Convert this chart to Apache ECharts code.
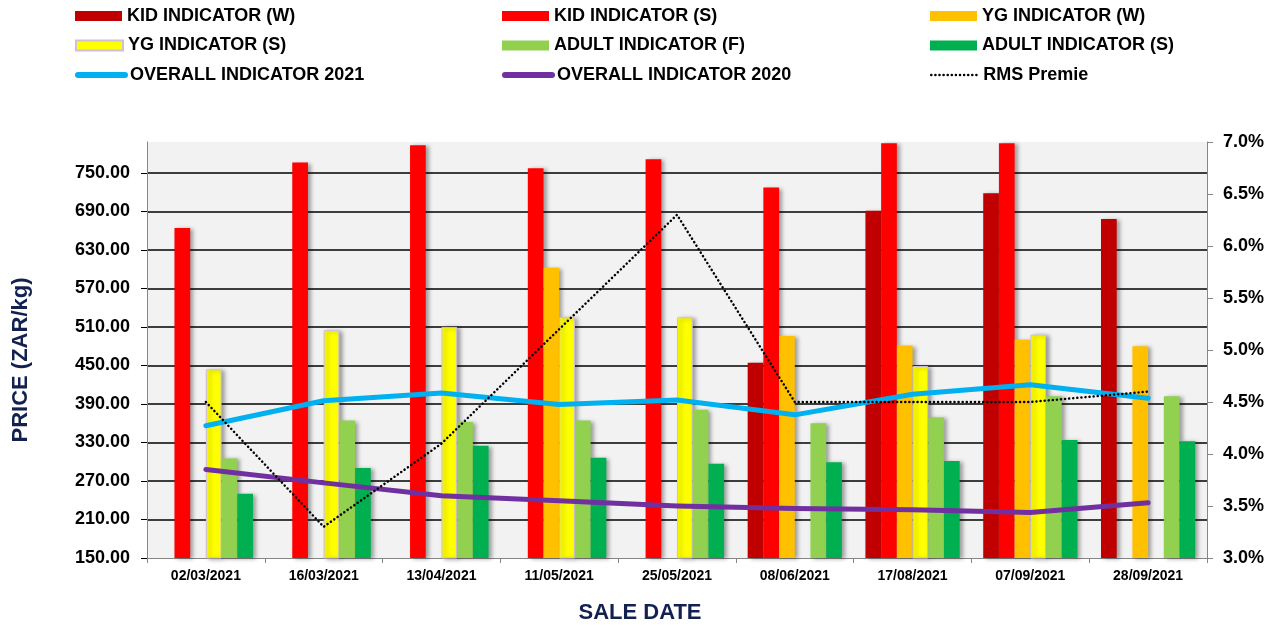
<!DOCTYPE html>
<html>
<head>
<meta charset="utf-8">
<script src="https://cdn.jsdelivr.net/npm/echarts@6/dist/echarts.min.js"></script>
<style>
html,body{margin:0;padding:0;background:#fff;}
#chart{width:1274px;height:625px;}
</style>
</head>
<body>
<div id="chart"></div>
<script>
var categories = ['02/03/2021','16/03/2021','13/04/2021','11/05/2021','25/05/2021','08/06/2021','17/08/2021','07/09/2021','28/09/2021'];
var kidW    = [null, null, null, null, null, 454, 691, 718, 678];
var kidS    = [664, 766, 793, 757, 771, 727, 796, 796, null];
var ygW     = [null, null, null, 602, null, 496, 481, 490, 480];
var ygS     = [444, 505, 510, 525, 525, null, 449, 498, null];
var adultF  = [305, 364, 362, 364, 381, 360, 369, 402, 402];
var adultS  = [250, 290, 325, 306, 297, 299, 301, 334, 332];
var overall2021 = [356, 395, 407, 389, 396, 373, 405, 420, 399];
var overall2020 = [288, 267, 247, 239, 231, 227, 225, 221, 236];
var rmsPremie   = [4.5, 3.3, 4.1, 5.2, 6.3, 4.5, 4.5, 4.5, 4.6];
var leftTicks = {min: 150, max: 798, interval: 60};
var rightTicks = {min: 3, max: 7, interval: 0.5};

var FONT = "'Liberation Sans', Arial, Helvetica, sans-serif";
var shadow = {shadowColor: 'rgba(0,0,0,0.35)', shadowBlur: 4, shadowOffsetX: 3, shadowOffsetY: 1};
var DOTS = [0.1, 4];

function barSeries(name, data, color, border) {
  return {
    name: name, type: 'bar', data: data, yAxisIndex: 0,
    barGap: '0%', barCategoryGap: '20%',
    itemStyle: Object.assign({color: color, borderColor: border || color, borderWidth: border ? 1 : 0}, shadow)
  };
}
function lineSeries(name, data, color, width, type, axis, z) {
  return {
    name: name, type: 'line', data: data, yAxisIndex: axis, symbol: 'none', z: z,
    lineStyle: {color: color, width: width, type: type, cap: 'round', join: 'round'},
    itemStyle: {color: color}
  };
}

var series = [
  barSeries('KID INDICATOR (W)', kidW, '#c00000'),
  barSeries('KID INDICATOR (S)', kidS, '#ff0000'),
  barSeries('YG INDICATOR (W)', ygW, '#ffc000'),
  barSeries('YG INDICATOR (S)', ygS, '#ffff00', '#ccc0da'),
  barSeries('ADULT INDICATOR (F)', adultF, '#92d050'),
  barSeries('ADULT INDICATOR (S)', adultS, '#00b050'),
  lineSeries('OVERALL INDICATOR 2021', overall2021, '#00b0f0', 5, 'solid', 0, 5),
  lineSeries('OVERALL INDICATOR 2020', overall2020, '#7030a0', 5, 'solid', 0, 5),
  lineSeries('RMS Premie', rmsPremie, '#000000', 2.5, DOTS, 1, 6)
];

var legendCols = [75, 502, 930];
var legendRows = [16, 45.5, 75];
var legendOrder = [
  ['KID INDICATOR (W)', 'KID INDICATOR (S)', 'YG INDICATOR (W)'],
  ['YG INDICATOR (S)', 'ADULT INDICATOR (F)', 'ADULT INDICATOR (S)'],
  ['OVERALL INDICATOR 2021', 'OVERALL INDICATOR 2020', 'RMS Premie']
];
var legendLineStyles = [
  {width: 6, type: 'solid', cap: 'round'},
  {width: 6, type: 'solid', cap: 'round'},
  {width: 2.5, type: DOTS, cap: 'round'}
];
var legends = [];
legendOrder.forEach(function (row, r) {
  row.forEach(function (name, c) {
    var isLine = r === 2;
    var lg = {
      data: [name],
      left: legendCols[c],
      top: legendRows[r] - 10,
      padding: 0,
      itemWidth: 47,
      itemHeight: 10,
      textStyle: {fontFamily: FONT, fontWeight: 'bold', fontSize: 18, color: '#000', lineHeight: 20}
    };
    if (isLine) {
      lg.itemStyle = {opacity: 0};
      lg.lineStyle = legendLineStyles[c];
    } else {
      lg.icon = 'rect';
    }
    legends.push(lg);
  });
});

var chart = echarts.init(document.getElementById('chart'));
chart.setOption({
  backgroundColor: '#ffffff',
  animation: false,
  legend: legends,
  grid: {left: 147, right: 67, top: 142, bottom: 67, show: true, backgroundColor: '#f2f2f2', borderWidth: 0},
  xAxis: {
    type: 'category', data: categories,
    axisLine: {show: true, lineStyle: {color: '#868686', width: 1}},
    axisTick: {show: true, length: 5, lineStyle: {color: '#868686'}},
    axisLabel: {fontFamily: FONT, fontWeight: 'bold', fontSize: 14, color: '#000', margin: 11}
  },
  yAxis: [
    {
      type: 'value', min: leftTicks.min, max: leftTicks.max, interval: leftTicks.interval,
      axisLine: {show: true, lineStyle: {color: '#868686'}},
      axisTick: {show: true, length: 6, lineStyle: {color: '#000'}},
      axisLabel: {fontFamily: FONT, fontWeight: 'bold', fontSize: 18, color: '#000', margin: 17, showMaxLabel: false,
        formatter: function (v) { return v.toFixed(2); }},
      splitLine: {show: true, showMinLine: false, showMaxLine: false, lineStyle: {color: '#000', width: 1.5}}
    },
    {
      type: 'value', min: rightTicks.min, max: rightTicks.max, interval: rightTicks.interval, position: 'right',
      axisLine: {show: true, lineStyle: {color: '#868686'}},
      axisTick: {show: true, length: 6, lineStyle: {color: '#868686'}},
      axisLabel: {fontFamily: FONT, fontWeight: 'bold', fontSize: 18, color: '#000', margin: 16,
        formatter: function (v) { return v.toFixed(1) + '%'; }},
      splitLine: {show: false}
    }
  ],
  graphic: [
    {type: 'text', x: 21, y: 360, rotation: Math.PI / 2,
      style: {text: 'PRICE (ZAR/kg)', fill: '#122150', font: 'bold 22px ' + FONT, align: 'center', verticalAlign: 'middle'}},
    {type: 'text', x: 640, y: 613,
      style: {text: 'SALE DATE', fill: '#122150', font: 'bold 22px ' + FONT, align: 'center', verticalAlign: 'middle'}}
  ],
  series: series
});
</script>
</body>
</html>
